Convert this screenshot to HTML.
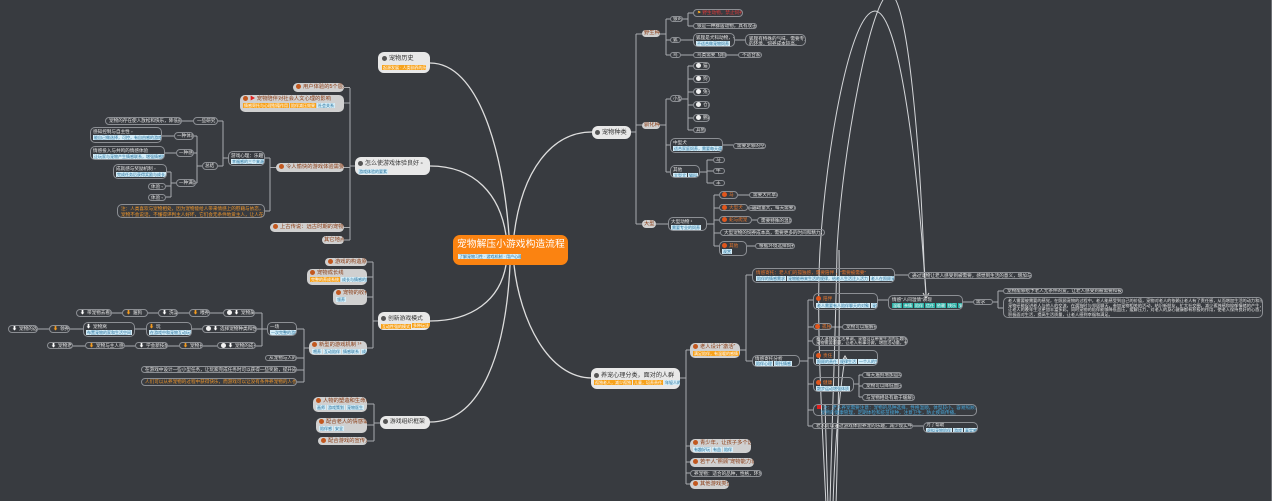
<!DOCTYPE html>
<html><head><meta charset="utf-8">
<style>
body{margin:0;width:1280px;height:501px;background:#fff;overflow:hidden;position:relative;font-family:"Liberation Sans","Noto Sans CJK SC",sans-serif}
#bg{position:absolute;left:0;top:0;width:1271px;height:501px;background:#383b40;border-right:1px solid #6c6f74}
.a{position:absolute;box-sizing:border-box;white-space:nowrap;overflow:hidden}
.o{border:1px solid #8c8f94;border-radius:5px;color:#e4e4e4;font-size:4.6px;padding:0 3px;line-height:5px}
.g{background:#d0d0d0;border-radius:5px;color:#8a3a12;font-size:5.3px;padding:0 3px}
.m{background:#e8e8e8;border-radius:6px;color:#333;font-size:6.2px;padding:3px 3px}
.t{display:inline-block;background:#d3ecf7;color:#25709c;font-size:4px;line-height:5px;height:5px;padding:0 1px;margin-right:1px;vertical-align:top;overflow:hidden}
.to{background:#f7a21b;color:#fff}
.tt{background:#2ab0a5;color:#fff}
.ic{display:inline-block;width:5px;height:5px;border-radius:50%;background:#c2581f;vertical-align:-1px;margin-right:2px}
.icr{background:#e0561c}
.icw{background:#f2f2f2}
.icd{background:#555;width:5px;height:5px}
.l{line-height:6px;height:6px}
.dn{color:#f29a1f;font-size:5px;margin-right:2px}
.dw{color:#fff;font-size:5px;margin-right:2px}
</style></head><body>
<div id="bg"></div>
<svg class="a" style="left:0;top:0" width="1280" height="501" viewBox="0 0 1280 501">
<g fill="none" stroke="#dedede" stroke-width="1.3">
<path d="M430 63 C478 63 503 150 509 235"/>
<path d="M430 166 C475 166 500 195 506 235"/>
<path d="M592 132 C552 132 522 170 514 235"/>
<path d="M430 321 C472 321 500 300 506 265"/>
<path d="M430 422 C482 422 506 350 510 265"/>
<path d="M592 378 C548 378 520 320 514 265"/>
</g>
<g fill="none" stroke="#a9abaf" stroke-width="1">
<path d="M355 166H350M350 88V240M350 87.5H344M350 103H344M350 167.5H344M350 227.5H344M350 240H344"/>
<path d="M276 167.5H270M270 158V211M270 158H265M270 211H265"/>
<path d="M228 158H223M223 121V166M223 121H218M223 166H218M193 121H182"/>
<path d="M202 166H197M197 136V183M197 136H194M197 153H194M197 183H196M174 136H162M176 153H165M176 183H171M171 172V197M171 172H167M171 186H166M171 197H166"/>
<path d="M378 321H373M373 262V348M373 262H367M373 277H367M373 297H367M373 348H367"/>
<path d="M309 348H304M304 329V382M304 329H297M304 358H297M304 370H297M304 382H297"/>
<path d="M267 329H262M262 313V346M262 313H255M262 329H257M262 346H256"/>
<path d="M223 313H210M189 313H178M158 313H148M122 313H112M202 329H192M146 329H135M83 329H70M49 329H38M217 346H203M179 346H168M135 346H125M85 346H73"/>
<path d="M380 423H374M374 404V441M374 404H367M374 425H367M374 441H367"/>
<path d="M631 132H636M636 34V224M636 34H642M636 125H642M636 224H642"/>
<path d="M660 34H666M666 19V55M666 19H670M666 40H670M666 55H670M683 19H688M688 13V26M688 13H693M688 26H693M681 40H693M735 40H745M681 55H693M727 55H738"/>
<path d="M660 125H666M666 99V172M666 99H670M666 145H670M666 172H670M682 99H688M688 66V130M688 66H693M688 79H693M688 92H693M688 105H693M688 118H693M688 130H693M723 145H733M700 172H707M707 160V183M707 160H713M707 171H713M707 183H713"/>
<path d="M656 224H668M707 224H714M714 195V246M714 195H719M714 208H719M714 220H719M714 233H720M714 246H719M738 195H749M748 208H758M752 220H757M747 246H755"/>
<path d="M680 378H686M686 350V484M686 350H690M686 446H690M686 462H690M686 473H690M686 484H690"/>
<path d="M740 350H746M746 275V361M746 275H752M746 361H752M895 275H908"/>
<path d="M800 361H808M808 300V426M808 300H813M808 327H813M808 341H812M808 358H813M808 384H813M808 410H813M808 426H812"/>
<path d="M878 300H888M963 302H973M993 302H998M998 291V308M998 291H1003M998 308H1003M832 327H842M854 384H859M859 375V397M859 375H862M859 386H862M859 397H862M913 426H923"/>
</g>
<g fill="none" stroke="#d4d6d9" stroke-width="1">
<path d="M826 505 C822 420 816 320 820 250 C826 150 850 12 875 11 C900 12 918 170 926 296"/>
<path d="M830 505 C832 420 836 320 837 250 C842 150 872 -8 890 -6 C908 -4 920 150 924 262 C925 280 926 290 926 296"/>
<path d="M833 505 C835 440 840 390 845 358"/>
<path d="M828 505 C827 470 826 440 825 405"/>
<path d="M836 505 C838 440 840 320 839 250"/>
</g>
<path d="M923 293 L926 298 L929 293" fill="none" stroke="#e0e0e0" stroke-width="1"/>
<path d="M842 361 L845 356 L848 361" fill="none" stroke="#e0e0e0" stroke-width="1"/>
</svg>

<!-- center -->
<div class="a" style="left:453px;top:235px;width:115px;height:30px;background:#fb8311;border-radius:7px;color:#fff;font-size:9.8px;padding:4px 0 0 4px;line-height:12px">宠物解压小游戏构造流程</div>
<div class="a t" style="left:458px;top:254px;width:63px;height:5px">了解宠物习性 · 游戏机制 · 用户心理分析</div>

<!-- main branches -->
<div class="a m" style="left:378px;top:52px;width:52px;height:21px;line-height:8px;padding:3px 4px"><span class="ic icd"></span>宠物历史<br><span class="t to" style="margin-top:2px;width:42px">起源发展 · 人类驯养的历程</span></div>
<div class="a m" style="left:355px;top:157px;width:75px;height:18px;line-height:8px;font-size:6px"><span class="ic icd"></span>怎么使游戏体验良好 ▫<br><span class="t" style="margin-top:1px">游戏体验的要素</span></div>
<div class="a m" style="left:592px;top:126px;width:39px;height:13px;line-height:7px;padding:3px"><span class="ic icd"></span>宠物种类</div>
<div class="a m" style="left:378px;top:312px;width:52px;height:18px;line-height:8px;font-size:5.8px"><span class="ic icd"></span>创新游戏模式<br><span class="t to" style="margin-top:1px">互动性强的模式</span><span class="t to">多种玩法</span></div>
<div class="a m" style="left:380px;top:416px;width:50px;height:13px;line-height:7px;padding:3px;font-size:5.8px"><span class="ic icd"></span>游戏组织框架</div>
<div class="a m" style="left:591px;top:368px;width:89px;height:21px;line-height:9px;font-size:6.1px"><span class="ic icd"></span>养宠心理分类，面对的人群<br><span class="t to">孤独老人，减少孤独</span><span class="t to">儿童，培养责任</span><span class="t">年轻人的情感寄托</span></div>

<!-- left top subtree -->
<div class="a g" style="left:293px;top:83px;width:51px;height:9px;line-height:9px"><span class="ic"></span>用户体验的5个层次</div>
<div class="a g" style="left:240px;top:95px;width:104px;height:17px;padding:1px 3px"><div class="l" style="height:7px;line-height:7px"><span class="ic"></span><span style="color:#e02020">▶</span> 宠物陪伴对社会人文心理的影响</div><span class="t to">情感寄托与心理慰藉作用</span><span class="t to">陪伴减压效果</span><span class="t">社会关系</span></div>
<div class="a g" style="left:276px;top:163px;width:68px;height:9px;line-height:9px"><span class="ic"></span>令人愉快的游戏体验需要的条件</div>
<div class="a g" style="left:270px;top:223px;width:74px;height:9px;line-height:9px"><span class="ic"></span>上古传说：远古时期的宠物形象</div>
<div class="a g" style="left:322px;top:236px;width:22px;height:8px;line-height:8px;padding:0 2px">其它地点</div>

<div class="a o" style="left:228px;top:151px;width:37px;height:15px;padding:1px 2px"><div class="l">游戏心理：乐趣 ▫</div><span class="t">幸福感的三个来源</span></div>
<div class="a o" style="left:117px;top:204px;width:148px;height:14px;color:#f0962a;padding:1px 3px;line-height:5.5px">注：人类喜欢与宠物相处，因为宠物能给人带来情感上的慰藉与依恋，宠物是一种寄托。<br>宠物不会说话，不懂得评判主人好坏，它们会无条件地爱主人，让人在相处时感到轻松愉悦。</div>
<div class="a o" style="left:193px;top:117px;width:25px;height:8px;line-height:6px">一些研究</div>
<div class="a o" style="left:105px;top:117px;width:77px;height:8px;line-height:6px">宠物的存在使人放松和快乐，降低孤独感</div>
<div class="a o" style="left:202px;top:162px;width:16px;height:8px;line-height:6px;padding:0 2px">总结</div>
<div class="a o" style="left:174px;top:132px;width:20px;height:8px;line-height:6px;padding:0 2px">一种体验</div>
<div class="a o" style="left:176px;top:149px;width:18px;height:8px;line-height:6px;padding:0 2px">一种感</div>
<div class="a o" style="left:176px;top:179px;width:20px;height:8px;line-height:6px;padding:0 2px">一种满足</div>
<div class="a o" style="left:90px;top:127px;width:72px;height:16px;padding:1px 2px"><div class="l">感知控制与自主性 ▫</div><span class="t">能自己做选择，可控，有自由感的游戏设计</span></div>
<div class="a o" style="left:90px;top:146px;width:75px;height:14px;padding:1px 2px"><div class="l">情感投入与共鸣的情感体验</div><span class="t">让玩家与宠物产生情感联系，增强情感投入</span></div>
<div class="a o" style="left:113px;top:164px;width:54px;height:15px;padding:1px 2px"><div class="l">成就感与奖励机制 ▫</div><span class="t">完成任务后获得奖励与成长</span></div>
<div class="a o" style="left:148px;top:183px;width:18px;height:7px;line-height:5px;padding:0 2px">体验 ▫</div>
<div class="a o" style="left:148px;top:194px;width:18px;height:7px;line-height:5px;padding:0 2px">体验 ▫</div>

<!-- left bottom subtree -->
<div class="a g" style="left:325px;top:258px;width:42px;height:8px;line-height:8px"><span class="ic"></span>游戏的构造原则</div>
<div class="a g" style="left:307px;top:269px;width:60px;height:16px;padding:1px 3px"><div class="l" style="height:7px;line-height:7px"><span class="ic"></span>宠物成长线</div><span class="t to">完整的养成系统</span><span class="t">成长与情感的反馈</span></div>
<div class="a g" style="left:333px;top:289px;width:34px;height:16px;padding:1px 3px"><div class="l" style="height:7px;line-height:7px"><span class="ic"></span>宠物的收养</div><span class="t">领养</span></div>
<div class="a g" style="left:309px;top:341px;width:58px;height:14px;padding:1px 3px"><div class="l" style="height:7px;line-height:7px"><span class="ic"></span>新型的游戏机制 ¹⁴</div><span class="t">喂养</span><span class="t">互动陪伴</span><span class="t">情感联系</span><span class="t">成长</span></div>

<div class="a o" style="left:267px;top:322px;width:30px;height:14px;padding:1px 2px"><div class="l">一场</div><span class="t">一次完整的游戏</span></div>
<div class="a o" style="left:265px;top:355px;width:32px;height:6px;line-height:4px">从宠物与人的关系出发</div>
<div class="a o" style="left:141px;top:366px;width:156px;height:7px;line-height:5px">在游戏中设计一些小型任务，让玩家完成任务时可以获得一些奖励，提升成就感和满足感，从而对游戏产生依恋。</div>
<div class="a o" style="left:141px;top:378px;width:156px;height:8px;line-height:6px;color:#f0962a">人们可以从养宠物的过程中获得快乐，而游戏可以让没有条件养宠物的人也能拥有一个“宠物”</div>

<div class="a o" style="left:223px;top:309px;width:32px;height:8px;line-height:6px"><span class="ic icw"></span><span class="dw">⬇</span>宠物属性</div>
<div class="a o" style="left:189px;top:309px;width:21px;height:8px;line-height:6px"><span class="dn">⬇</span>喂养</div>
<div class="a o" style="left:158px;top:309px;width:20px;height:8px;line-height:6px"><span class="dw">⬇</span>洗澡</div>
<div class="a o" style="left:122px;top:309px;width:26px;height:8px;line-height:6px"><span class="dn">⬇</span>遛狗</div>
<div class="a o" style="left:76px;top:309px;width:36px;height:8px;line-height:6px"><span class="dw">⬇</span>带宠物去看医生</div>

<div class="a o" style="left:202px;top:325px;width:55px;height:8px;line-height:6px"><span class="ic icw"></span><span class="dw">⬇</span>选择宠物种类和性格特征</div>
<div class="a o" style="left:146px;top:322px;width:46px;height:15px;padding:1px 2px"><div class="l"><span class="dn">⬇</span>玩</div><span class="t">在游戏中和宠物互动玩耍</span></div>
<div class="a o" style="left:83px;top:322px;width:52px;height:15px;padding:1px 2px"><div class="l"><span class="dw">⬇</span>宠物窝</div><span class="t">布置宠物的家和生活空间</span></div>
<div class="a o" style="left:49px;top:325px;width:21px;height:8px;line-height:6px"><span class="dn">⬇</span>领养</div>
<div class="a o" style="left:8px;top:325px;width:30px;height:8px;line-height:6px"><span class="dw">⬇</span>宠物的选择</div>

<div class="a o" style="left:217px;top:342px;width:39px;height:7px;line-height:5px"><span class="ic icw"></span><span class="dw">⬇</span>宠物的成长</div>
<div class="a o" style="left:179px;top:342px;width:24px;height:7px;line-height:5px"><span class="dn">⬇</span>宠物长大</div>
<div class="a o" style="left:135px;top:342px;width:33px;height:7px;line-height:5px"><span class="dw">⬇</span>学会新技能</div>
<div class="a o" style="left:85px;top:342px;width:40px;height:7px;line-height:5px"><span class="dn">⬇</span>宠物与主人感情加深</div>
<div class="a o" style="left:47px;top:342px;width:26px;height:7px;line-height:5px"><span class="dw">⬇</span>宠物老去</div>

<!-- bottom-left subtree -->
<div class="a g" style="left:313px;top:397px;width:54px;height:15px;padding:1px 3px"><div class="l" style="height:7px;line-height:7px"><span class="ic"></span>人物的塑造和生命周期</div><span class="t">画师</span><span class="t">游戏策划</span><span class="t">宠物医生</span></div>
<div class="a g" style="left:316px;top:418px;width:51px;height:15px;padding:1px 3px"><div class="l" style="height:7px;line-height:7px"><span class="ic"></span>配合老人的情感需求</div><span class="t">陪伴感</span><span class="t">安全</span></div>
<div class="a g" style="left:318px;top:437px;width:49px;height:8px;line-height:8px"><span class="ic"></span>配合游戏的宣传方式</div>

<!-- right top subtree -->
<div class="a g" style="left:642px;top:30px;width:18px;height:7px;line-height:7px;padding:0 2px">野生种</div>
<div class="a g" style="left:642px;top:122px;width:18px;height:7px;line-height:7px;padding:0 2px">驯化种</div>
<div class="a g" style="left:642px;top:220px;width:14px;height:8px;line-height:8px;padding:0 2px">大型</div>

<div class="a o" style="left:670px;top:16px;width:13px;height:6px;line-height:4px;padding:0 2px">狼的</div>
<div class="a o" style="left:670px;top:37px;width:11px;height:6px;line-height:4px;padding:0 2px">狐</div>
<div class="a o" style="left:670px;top:52px;width:11px;height:6px;line-height:4px;padding:0 2px">鸟</div>
<div class="a o" style="left:693px;top:9px;width:50px;height:8px;line-height:6px;color:#e03a3a"><span style="color:#f5a623">⚑</span> 野生动物，禁止饲养</div>
<div class="a o" style="left:693px;top:23px;width:64px;height:6px;line-height:4px">狼是一种群居动物，具有攻击性</div>
<div class="a o" style="left:693px;top:33px;width:42px;height:14px;padding:1px 2px"><div class="l">狐狸是犬科动物，有野性</div><span class="t">不适合做宠物饲养</span></div>
<div class="a o" style="left:745px;top:34px;width:61px;height:12px;padding:1px 3px">狐狸有特殊的气味，需要专业<br>的环境，饲养成本较高。</div>
<div class="a o" style="left:693px;top:52px;width:34px;height:6px;line-height:4px">鸟类需要飞翔的空间</div>
<div class="a o" style="left:738px;top:52px;width:24px;height:6px;line-height:4px">不适合家养</div>

<div class="a o" style="left:670px;top:95px;width:12px;height:7px;line-height:5px;padding:0 2px">小型</div>
<div class="a o" style="left:693px;top:62px;width:17px;height:8px;line-height:6px;padding:0 2px"><span class="ic icw"></span>猫</div>
<div class="a o" style="left:693px;top:75px;width:17px;height:8px;line-height:6px;padding:0 2px"><span class="ic icw"></span>狗</div>
<div class="a o" style="left:693px;top:88px;width:17px;height:8px;line-height:6px;padding:0 2px"><span class="ic icw"></span>兔子</div>
<div class="a o" style="left:693px;top:101px;width:17px;height:8px;line-height:6px;padding:0 2px"><span class="ic icw"></span>仓鼠</div>
<div class="a o" style="left:693px;top:114px;width:17px;height:8px;line-height:6px;padding:0 2px"><span class="ic icw"></span>鹦鹉</div>
<div class="a o" style="left:693px;top:127px;width:13px;height:6px;line-height:4px;padding:0 2px">其他</div>
<div class="a o" style="left:670px;top:138px;width:53px;height:15px;padding:1px 2px"><div class="l">中型犬</div><span class="t">适合家庭饲养，需要每天遛狗</span></div>
<div class="a o" style="left:733px;top:143px;width:33px;height:6px;line-height:4px">需要足够的空间</div>
<div class="a o" style="left:670px;top:165px;width:30px;height:13px;padding:1px 2px"><div class="l">其他</div><span class="t">大型犬</span><span class="t">猫科</span></div>
<div class="a o" style="left:713px;top:157px;width:12px;height:6px;line-height:4px;padding:0 2px">马</div>
<div class="a o" style="left:713px;top:168px;width:12px;height:6px;line-height:4px;padding:0 2px">牛</div>
<div class="a o" style="left:713px;top:180px;width:12px;height:6px;line-height:4px;padding:0 2px">羊</div>

<div class="a o" style="left:668px;top:217px;width:39px;height:14px;padding:1px 2px"><div class="l">大型动物 ¹</div><span class="t">需要专业的饲养</span></div>
<div class="a o" style="left:719px;top:191px;width:19px;height:8px;line-height:6px;padding:0 2px;color:#e8762c"><span class="ic icr"></span>马</div>
<div class="a o" style="left:749px;top:192px;width:29px;height:6px;line-height:4px">需要大片草地</div>
<div class="a o" style="left:719px;top:204px;width:29px;height:7px;line-height:5px;padding:0 2px;color:#e8762c"><span class="ic icr"></span>大型犬</div>
<div class="a o" style="left:748px;top:205px;width:48px;height:6px;line-height:4px">运动量大，每天需要遛</div>
<div class="a o" style="left:719px;top:216px;width:33px;height:8px;line-height:6px;padding:0 2px;color:#e8762c"><span class="ic icr"></span>蛇与爬宠</div>
<div class="a o" style="left:757px;top:217px;width:35px;height:7px;line-height:5px;text-decoration:underline">需要特殊的温度环境</div>
<div class="a o" style="left:720px;top:229px;width:105px;height:7px;line-height:5px">大型宠物的饲养成本高，需要更多的时间和精力，不适合所有人饲养</div>
<div class="a o" style="left:719px;top:241px;width:28px;height:15px;padding:1px 2px;color:#e8762c"><div class="l"><span class="ic icr"></span>其他</div><span class="t">观赏</span></div>
<div class="a o" style="left:755px;top:243px;width:40px;height:6px;line-height:4px">根据环境选择饲养</div>

<!-- right bottom subtree -->
<div class="a g" style="left:690px;top:343px;width:50px;height:15px;padding:1px 3px"><div class="l" style="height:7px;line-height:7px"><span class="ic"></span>老人设计“激活”</div><span class="t to">满足陪伴，有温暖的感情</span></div>
<div class="a g" style="left:690px;top:439px;width:61px;height:14px;padding:1px 3px"><div class="l" style="height:7px;line-height:7px"><span class="ic"></span>青少年，让孩子多个选择</div><span class="t">有趣好玩</span><span class="t">有益</span><span class="t">陪伴</span></div>
<div class="a g" style="left:690px;top:458px;width:64px;height:9px;line-height:9px"><span class="ic"></span>若干人“照顾”宠物能力弱</div>
<div class="a o" style="left:690px;top:470px;width:72px;height:7px;line-height:5px">养宠物：适合的品种，性格，环境，饮食和运动</div>
<div class="a g" style="left:690px;top:480px;width:39px;height:9px;line-height:9px"><span class="ic"></span>其他游戏类型</div>

<div class="a o" style="left:752px;top:268px;width:143px;height:15px;padding:1px 3px"><div class="l" style="color:#e8762c">情感寄托：老人们的孤独感，需要陪伴 ，“需要被需要”</div><span class="t">陪伴的情感需求</span><span class="t">宠物能带来生活的规律，给老人生活注入活力</span><span class="t">老人在照顾宠物时获得价值感</span></div>
<div class="a o" style="left:908px;top:272px;width:124px;height:7px;line-height:5px">通过宠物让老人感受到被需要，感觉到生活的意义，增加与外界的联系。</div>
<div class="a o" style="left:752px;top:355px;width:48px;height:12px;padding:0 2px"><div class="l" style="height:5px;line-height:5px">情感寄托分析</div><span class="t">陪伴心理</span><span class="t">寄托情感</span></div>

<div class="a o" style="left:813px;top:293px;width:65px;height:17px;padding:1px 2px"><div class="l" style="height:8px;line-height:8px;color:#e8762c"><span class="ic icr"></span>陪伴</div><span class="t">老人需要有人陪伴聊天的对象</span><span class="t">宠物可以做到</span></div>
<div class="a o" style="left:888px;top:295px;width:75px;height:15px;padding:1px 3px"><div class="l">情感“人间温情”表现</div><span class="t tt">温暖</span><span class="t tt">亲情</span><span class="t tt">陪伴</span><span class="t tt">信任</span><span class="t tt">依赖</span><span class="t tt">快乐</span><span class="t tt">安全</span></div>
<div class="a o" style="left:973px;top:299px;width:20px;height:6px;line-height:4px;padding:0 2px">需求</div>
<div class="a o" style="left:1003px;top:288px;width:120px;height:6px;line-height:4px">宠物能够给予老人无条件的爱，让老人感受到被需要和被爱的感觉</div>
<div class="a o" style="left:1003px;top:297px;width:260px;height:21px;padding:1px 4px;line-height:4.6px;font-size:4.2px">老人需要被需要的感觉，在照顾宠物的过程中，老人能感受到自己的价值，宠物对老人的依赖让老人有了责任感，从而增加生活的动力和乐趣。<br>宠物还能促进老人与他人的交流，在遛狗时与邻居聊天，参加宠物相关的活动，结识新朋友，扩大社交圈，减少孤独感和抑郁情绪的产生，<br>让老人的晚年生活更加丰富多彩。同时宠物的陪伴能够降低血压，缓解压力，对老人的身心健康都有积极的作用，使老人保持良好的心态，<br>积极面对生活，提高生活质量，让老人感到幸福和满足。</div>

<div class="a o" style="left:813px;top:323px;width:19px;height:7px;line-height:5px;padding:0 1px;color:#e8762c"><span class="ic icr"></span>孤独</div>
<div class="a o" style="left:842px;top:324px;width:35px;height:6px;line-height:4px">宠物可以缓解孤独</div>
<div class="a o" style="left:812px;top:336px;width:96px;height:10px;padding:0 3px;line-height:4.4px;font-size:4.2px">老人退休后生活单调，宠物可以带来生活的乐趣和规律<br>宠物需要照顾，让老人有事可做，增加活动量，有益健康。</div>
<div class="a o" style="left:813px;top:350px;width:65px;height:16px;padding:1px 2px"><div class="l" style="height:7px;line-height:7px;color:#e8762c"><span class="ic icr"></span>责任</div><span class="t">照顾的责任</span><span class="t">规律生活</span><span class="t">一个人的生活目标</span></div>
<div class="a o" style="left:813px;top:377px;width:41px;height:15px;padding:1px 2px"><div class="l" style="height:7px;line-height:7px;color:#e8762c"><span class="ic icr"></span>健康</div><span class="t">散步运动增强体质</span></div>
<div class="a o" style="left:862px;top:372px;width:40px;height:6px;line-height:4px">每天遛狗增加运动量</div>
<div class="a o" style="left:862px;top:383px;width:40px;height:6px;line-height:4px">宠物可以降低血压</div>
<div class="a o" style="left:862px;top:394px;width:53px;height:7px;line-height:5px">与宠物相处有助于缓解压力</div>
<div class="a o" style="left:813px;top:404px;width:164px;height:12px;padding:0 3px;line-height:5px;color:#47a8dc"><span style="display:inline-block;width:4px;height:4px;background:#e02020;margin-right:2px"></span>注：老人养宠需要注意：宠物的品种选择，性格温顺，体型较小，容易照顾，“不要太活泼”，避免老人摔倒受伤<br>&nbsp;&nbsp;&nbsp;宠物的健康管理，定期体检和疫苗接种，注意卫生，防止疾病传播。</div>
<div class="a o" style="left:812px;top:423px;width:101px;height:6px;line-height:4px">老人可以通过游戏体验养宠的乐趣，减少现实中养宠的负担和风险</div>
<div class="a o" style="left:923px;top:422px;width:55px;height:11px;padding:0 2px;line-height:4.5px"><div style="height:5px">为了帮助</div><span class="t">虚拟宠物陪伴</span><span class="t">游戏</span><span class="t">真实感</span></div>
</body></html>
